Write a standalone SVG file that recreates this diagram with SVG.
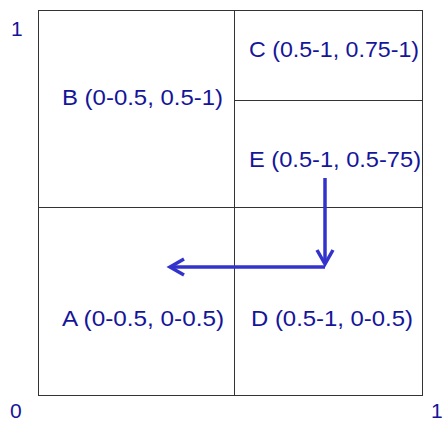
<svg xmlns="http://www.w3.org/2000/svg" width="444" height="421" viewBox="0 0 444 421">
<style>
.cell{fill:#ffffff;stroke:#333333;stroke-width:1}
.lbl{font-family:"Liberation Sans",Arial,sans-serif;font-size:22px;fill:#15159a}
.ax{font-family:"Liberation Sans",Arial,sans-serif;font-size:21px;fill:#15159a}
.conn{fill:none;stroke:#3333cc;stroke-width:3.5}
</style>
<defs>
<marker id="ah" markerUnits="userSpaceOnUse" markerWidth="20" markerHeight="20" viewBox="-16 -10 20 20" refX="0" refY="0" orient="auto">
<path d="M-14,-8 L0,0 L-14,8" fill="none" stroke="#3333cc" stroke-width="3.5" stroke-linejoin="miter"/>
</marker>
</defs>
<g id="B"><rect class="cell" x="38.5" y="10.5" width="196" height="197"/><text class="lbl" x="62" y="105" textLength="161" lengthAdjust="spacingAndGlyphs">B (0-0.5, 0.5-1)</text></g>
<g id="C"><rect class="cell" x="234.5" y="10.5" width="188" height="90"/><text class="lbl" x="249" y="57" textLength="170" lengthAdjust="spacingAndGlyphs">C (0.5-1, 0.75-1)</text></g>
<g id="E"><rect class="cell" x="234.5" y="100.5" width="188" height="107"/><text class="lbl" x="249" y="167" textLength="172" lengthAdjust="spacingAndGlyphs">E (0.5-1, 0.5-75)</text></g>
<g id="A"><rect class="cell" x="38.5" y="207.5" width="196" height="188"/><text class="lbl" x="62" y="326" textLength="162" lengthAdjust="spacingAndGlyphs">A (0-0.5, 0-0.5)</text></g>
<g id="D"><rect class="cell" x="234.5" y="207.5" width="188" height="188"/><text class="lbl" x="251" y="326" textLength="162" lengthAdjust="spacingAndGlyphs">D (0.5-1, 0-0.5)</text></g>
<g id="axes">
<text class="ax" x="11" y="36">1</text>
<text class="ax" x="10" y="418">0</text>
<text class="ax" x="431" y="418">1</text>
</g>
<g id="connectors">
<path class="conn" d="M325,178 L325,264" marker-end="url(#ah)"/>
<path class="conn" d="M325,267 L170,267" marker-end="url(#ah)"/>
</g>
</svg>
